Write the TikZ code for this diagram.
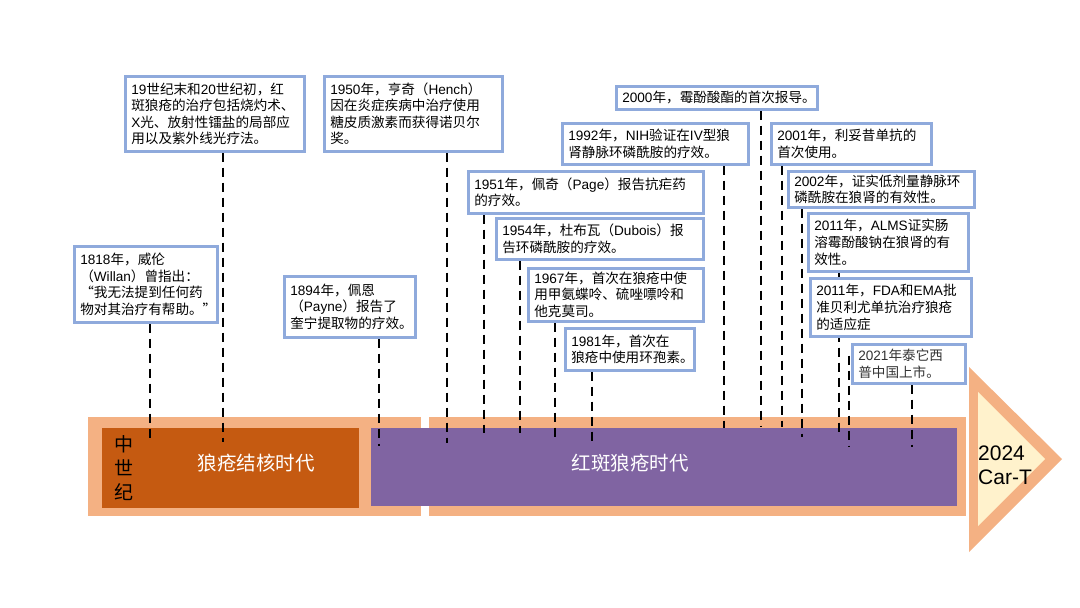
\documentclass[tikz,border=0pt]{standalone}
\usepackage{fontspec}
\setmainfont{Noto Sans CJK SC}
\newfontfamily\latf{Liberation Sans}
\newcommand\lat[1]{{\latf #1}}
\definecolor{salmon}{HTML}{F4B183}
\definecolor{darkor}{HTML}{C55A11}
\definecolor{eraPurple}{HTML}{8064A2}
\definecolor{lightyel}{HTML}{FFF2CC}
\definecolor{boxblue}{HTML}{8FAADC}
\pgfdeclarelayer{bars}
\pgfdeclarelayer{lines}
\pgfsetlayers{bars,lines,main}
\tikzset{
  tb/.style={draw=boxblue, line width=2.6pt, fill=white, anchor=north west,
    align=left, inner xsep=6pt, inner ysep=0pt,
    font=\fontsize{13.6}{16.6}\selectfont},
  dl/.style={draw=black, line width=2.7pt, dash pattern=on 9pt off 6pt},
  era/.style={text=white, font=\fontsize{19.5}{24}\selectfont, inner sep=0pt},
}
\begin{document}
\begin{tikzpicture}[x=1pt,y=-1pt]
\useasboundingbox (0,0) rectangle (1080,608);

% ---- bars ----
\begin{pgfonlayer}{bars}
  \fill[salmon] (88,417) rectangle (421,516);
  \fill[salmon] (429,417) rectangle (966,516);
  \fill[darkor] (102,428) rectangle (359,508);
  \fill[eraPurple] (371,428) rectangle (957,506);
  \fill[salmon] (969,367) -- (1062,459) -- (969,552) -- cycle;
  \fill[lightyel] (978,392) -- (1045,459) -- (978,526) -- cycle;
\end{pgfonlayer}

\node[era] (eraA) at (256,463) {狼疮结核时代};
\node[era] (eraB) at (630,463) {红斑狼疮时代};
\node[inner sep=0pt, align=center, font=\fontsize{19}{24}\selectfont] (mid) at (124,468) {中\\世\\纪};
\node[inner sep=0pt, align=left, anchor=west, font=\latf\fontsize{21}{24}\selectfont] (cart) at (978,465) {2024\\Car-T};

% ---- boxes ----
\node[tb, text width=167pt, minimum height=75pt] (b19) at (124,75)
  {\lat{19}世纪末和\lat{20}世纪初，红\\斑狼疮的治疗包括烧灼术、\\\lat{X}光、放射性镭盐的局部应\\用以及紫外线光疗法。};
\node[tb, text width=166pt, minimum height=75pt] (b1950) at (323,75)
  {\lat{1950}年，亨奇（\lat{Hench}）\\因在炎症疾病中治疗使用\\糖皮质激素而获得诺贝尔\\奖。};
\node[tb, text width=131pt, minimum height=76pt] (b1818) at (73,245)
  {\lat{1818}年，威伦\\（\lat{Willan}）曾指出：\\“我无法提到任何药\\物对其治疗有帮助。”};
\node[tb, text width=119pt, minimum height=61pt] (b1894) at (283,275)
  {\lat{1894}年，佩恩\\（\lat{Payne}）报告了\\奎宁提取物的疗效。};
\node[tb, text width=189pt, minimum height=23pt] (b2000) at (615,85)
  {\lat{2000}年，霉酚酸酯的首次报导。};
\node[tb, text width=174pt, minimum height=41pt] (b1992) at (561,122)
  {\lat{1992}年，\lat{NIH}验证在\lat{IV}型狼\\肾静脉环磷酰胺的疗效。};
\node[tb, text width=148pt, minimum height=41pt] (b2001) at (770,122)
  {\lat{2001}年，利妥昔单抗的\\首次使用。};
\node[tb, text width=223pt, minimum height=42pt] (b1951) at (467,170)
  {\lat{1951}年，佩奇（\lat{Page}）报告抗疟药\\的疗效。};
\node[tb, text width=195pt, minimum height=41pt] (b1954) at (495,217)
  {\lat{1954}年，杜布瓦（\lat{Dubois}）报\\告环磷酰胺的疗效。};
\node[tb, text width=163pt, minimum height=53pt] (b1967) at (527,267)
  {\lat{1967}年，首次在狼疮中使\\用甲氨蝶呤、硫唑嘌呤和\\他克莫司。};
\node[tb, text width=117pt, minimum height=42pt] (b1981) at (564,327)
  {\lat{1981}年，首次在\\狼疮中使用环孢素。};
\node[tb, text width=174pt, minimum height=36pt] (b2002) at (787,170)
  {\lat{2002}年，证实低剂量静脉环\\磷酰胺在狼肾的有效性。};
\node[tb, text width=148pt, minimum height=58pt] (bALMS) at (807,212)
  {\lat{2011}年，\lat{ALMS}证实肠\\溶霉酚酸钠在狼肾的有\\效性。};
\node[tb, text width=149pt, minimum height=58pt] (bFDA) at (809,277)
  {\lat{2011}年，\lat{FDA}和\lat{EMA}批\\准贝利尤单抗治疗狼疮\\的适应症};
\node[tb, text width=101pt, minimum height=39pt, text=black!80] (b2021) at (851,343)
  {\lat{2021}年泰它西\\普中国上市。};

% ---- end points of connectors ----
\coordinate (e1818) at (150,442);
\coordinate (e19)   at (223,442);
\coordinate (e1894) at (379,446);
\coordinate (e1950) at (447,443);
\coordinate (e1951) at (484,433);
\coordinate (e1954) at (520,433);
\coordinate (e1967) at (555,442);
\coordinate (e1981) at (592,443);
\coordinate (e1992) at (724,428);
\coordinate (e2000) at (761,427);
\coordinate (e2001) at (782,427);
\coordinate (e2002) at (802,437);
\coordinate (eALMS) at (839,436);
\coordinate (eFDA)  at (849,447);
\coordinate (e2021) at (912,447);

\begin{pgfonlayer}{lines}
  \foreach \n in {1818,19,1894,1950,1951,1954,1967,1981,1992,2000,2001,2002,ALMS,2021}
    \draw[dl] (b\n.south -| e\n) -- (e\n);
  \draw[dl, shorten <=18pt] (bFDA.south -| eFDA) -- (eFDA);
\end{pgfonlayer}
\end{tikzpicture}
\end{document}
